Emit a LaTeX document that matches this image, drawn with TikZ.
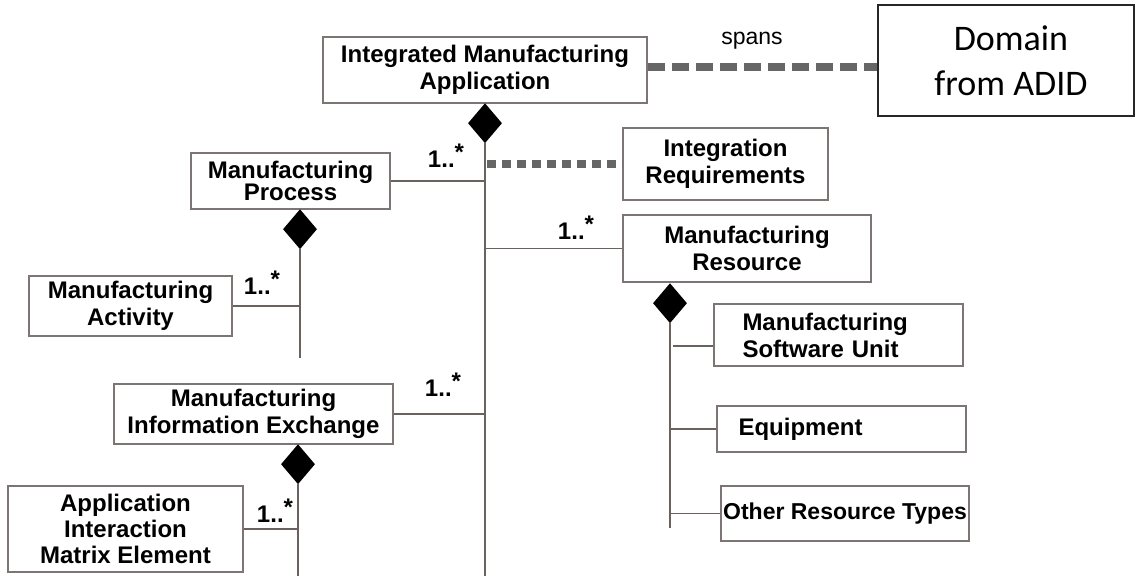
\documentclass[tikz,border=0pt]{standalone}
\usepackage{fontspec}
\setmainfont{Liberation Sans}
\newfontfamily\carlito{Carlito}
\usetikzlibrary{shapes.geometric,calc}
\definecolor{linec}{HTML}{6B625F}
\definecolor{boxc}{HTML}{7D7573}
\definecolor{dashc}{HTML}{666666}
\newcommand{\mult}{1..\raisebox{0.3em}{*}}
\tikzset{
  box/.style={draw=boxc, line width=2pt, fill=white, inner sep=0pt, align=center,
    font=\fontsize{24}{27}\selectfont\bfseries, text=black},
  dia/.style={diamond, fill=black, draw=none, inner sep=0pt, minimum width=34pt, minimum height=40pt, anchor=north},
  conn/.style={draw=linec, line width=1.8pt},
  spandash/.style={draw=dashc, line width=8pt, dash pattern=on 17pt off 7pt},
  reqdash/.style={draw=dashc, line width=8pt, dash pattern=on 9pt off 6pt},
  mlabel/.style={font=\fontsize{24}{24}\selectfont\bfseries, text=black, inner sep=0pt}
}
\begin{document}
\begin{tikzpicture}[x=1pt,y=-1pt]
\useasboundingbox[fill=white] (0,0) rectangle (1136,576);

% boxes
\node[box, minimum width=324pt, minimum height=66pt] (ima) at (485,70) {Integrated Manufacturing\\Application};
\node[box, draw=black!85, minimum width=256pt, minimum height=111pt, font=\fontsize{36}{45}\selectfont\carlito] (dom) at (1006,60.5) {\hspace*{10pt}Domain\\\hspace*{10pt}from ADID};
\node[box, minimum width=205pt, minimum height=72pt] (ir) at (725.5,164) {Integration\\Requirements};
\node[box, minimum width=199pt, minimum height=56pt, font=\fontsize{24}{21}\selectfont\bfseries] (mp) at (290.5,181) {Manufacturing\\Process};
\node[box, minimum width=203pt, minimum height=60pt] (ma) at (130.5,306) {Manufacturing\\Activity};
\node[box, minimum width=248pt, minimum height=67pt] (mr) at (747,248.5) {Manufacturing\\Resource};
\node[box, minimum width=249pt, minimum height=62pt, align=left, text width=220pt] (msu) at (838.5,335) {\hspace*{14pt}Manufacturing\\\hspace*{14pt}Software Unit};
\node[box, minimum width=249pt, minimum height=46pt, align=left, text width=226pt] (eq) at (841.5,429) {\hspace*{10pt}Equipment};
\node[box, minimum width=248pt, minimum height=55pt, font=\fontsize{23}{27}\selectfont\bfseries] (ort) at (845,513.5) {Other Resource Types};
\node[box, minimum width=279pt, minimum height=60pt] (mie) at (253.5,414) {Manufacturing\\Information Exchange};
\node[box, minimum width=235pt, minimum height=86pt, font=\fontsize{24}{26}\selectfont\bfseries] (aime) at (125.5,529) {Application\\Interaction\\Matrix Element};

% diamonds
\node[dia] (dima) at (485,103) {};
\node[dia] (dmp) at (300,209) {};
\node[dia] (dmr) at (670,283) {};
\node[dia] (dmie) at (298,444) {};

% free ends
\coordinate (mainend) at (485,576);
\coordinate (mpend) at (300,358);
\coordinate (mrend) at (670,528);
\coordinate (mieend) at (298,576);

% spans
\draw[spandash] ([yshift=3pt]ima.east) -- ([yshift=3pt]ima.east -| dom.west);
\node[font=\fontsize{23}{23}\selectfont, inner sep=0pt] (spans) at (752,41) {spans};

% main composition
\draw[conn] (dima.south) -- (mainend);
\draw[conn] (mp.east) -- (mp.east -| dima.south);
\draw[reqdash] (ir.west -| dima.south) ++(2,0) -- (ir.west);
\draw[conn] (mr.west) -- (mr.west -| dima.south);
\draw[conn] (mie.east) -- (mie.east -| dima.south);

% MP composition
\draw[conn] (dmp.south) -- (mpend);
\draw[conn] (ma.east) -- (ma.east -| dmp.south);

% MIE composition
\draw[conn] (dmie.south) -- (mieend);
\draw[conn] (aime.east) -- (aime.east -| dmie.south);

% MR composition
\draw[conn] (dmr.south) -- (mrend);
\draw[conn] ($(msu.south west)!0.33!(msu.north west)$) -- ++(-40,0);
\draw[conn] (eq.west) -- (eq.west -| dmr.south);
\draw[conn] (ort.west) -- (ort.west -| dmr.south);

% multiplicities
\node[mlabel] (m1) at (446,156) {\mult};
\node[mlabel] (m2) at (576,228) {\mult};
\node[mlabel] (m3) at (262,283) {\mult};
\node[mlabel] (m4) at (443,385) {\mult};
\node[mlabel] (m5) at (275,511) {\mult};
\end{tikzpicture}
\end{document}
